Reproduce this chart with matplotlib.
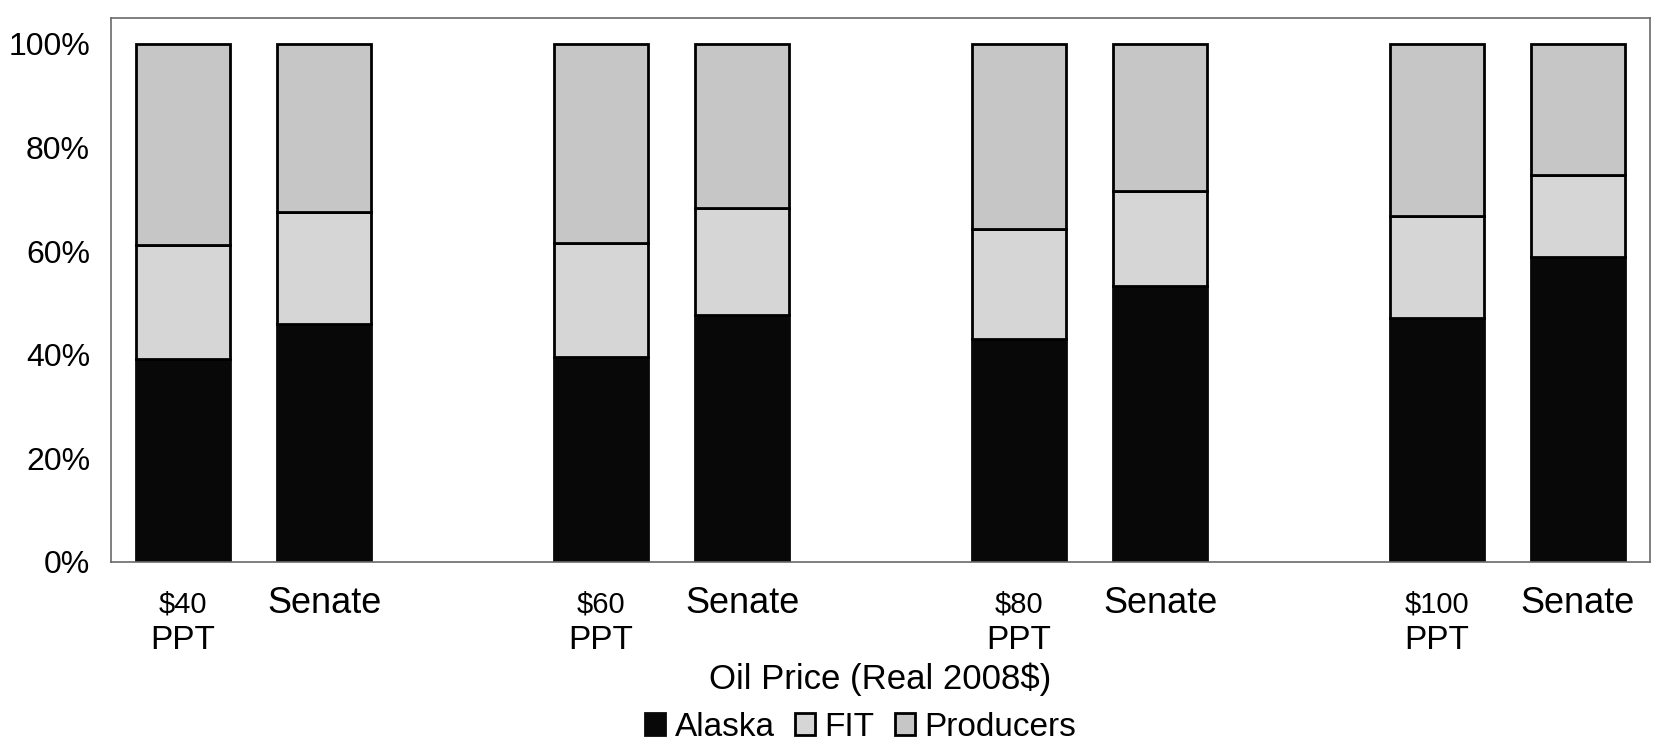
import numpy as np
import matplotlib.pyplot as plt
from matplotlib.ticker import PercentFormatter

plt.rcParams['font.family'] = ['Liberation Sans', 'DejaVu Sans']

prices = ['$40', '$60', '$80', '$100']
alaska = [39.2, 46.0, 39.6, 47.7, 43.1, 53.3, 47.0, 58.9]
fit = [22.0, 21.6, 22.0, 20.7, 21.1, 18.2, 19.7, 15.7]
producers = [100 - a - f for a, f in zip(alaska, fit)]

# two bars per price (PPT, Senate), gap between the price groups
x = []
for g in range(4):
    x += [g * 2.96, g * 2.96 + 1]
x = np.array(x)
w = 0.67

fig = plt.figure(figsize=(16.55, 7.49), dpi=100)
ax = fig.add_axes([0.067, 0.25, 0.93, 0.726])

bottom2 = np.array(alaska) + np.array(fit)
ax.bar(x, alaska, w, color='#080808', edgecolor='#080808', linewidth=2, label='Alaska')
ax.bar(x, fit, w, bottom=alaska, color='#d6d6d6', edgecolor='black', linewidth=2, label='FIT')
ax.bar(x, producers, w, bottom=bottom2, color='#c6c6c6', edgecolor='black', linewidth=2, label='Producers')

ax.set_ylim(0, 105)
ax.set_xlim(-0.51, 10.39)
ax.set_yticks(range(0, 101, 20))
ax.yaxis.set_major_formatter(PercentFormatter(decimals=0))
ax.tick_params(axis='y', length=0, pad=15, labelsize=23)
ax.set_xticks(x)
ax.set_xticklabels([])
ax.tick_params(axis='x', length=0)

# category labels under the bars
for i, p in enumerate(prices):
    ax.annotate(p, (x[2 * i], 0), xycoords=('data', 'axes fraction'),
                xytext=(0, -31), textcoords='offset points',
                ha='center', va='center', fontsize=21)
    ax.annotate('PPT', (x[2 * i], 0), xycoords=('data', 'axes fraction'),
                xytext=(0, -57), textcoords='offset points',
                ha='center', va='center', fontsize=24)
    ax.annotate('Senate', (x[2 * i + 1], 0), xycoords=('data', 'axes fraction'),
                xytext=(0, -30), textcoords='offset points',
                ha='center', va='center', fontsize=26)

for s in ax.spines.values():
    s.set_color('#6a6a6a')
    s.set_linewidth(1.2)

ax.set_xlabel('Oil Price (Real 2008$)', fontsize=25, va='center')
ax.xaxis.set_label_coords(0.5, -0.217)

fig.legend(loc='center', bbox_to_anchor=(0.52, 0.029), ncol=3, frameon=False,
           fontsize=24, handlelength=0.6, handleheight=0.6, handletextpad=0.3,
           columnspacing=0.6)

fig.savefig('out.png', dpi=100)
